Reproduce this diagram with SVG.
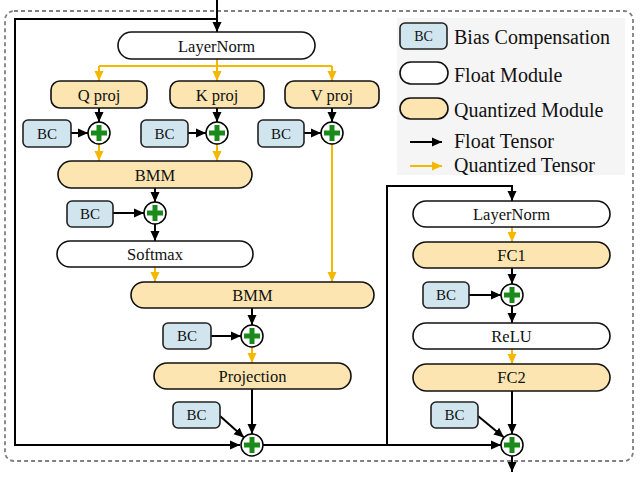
<svg xmlns="http://www.w3.org/2000/svg" width="640" height="480" viewBox="0 0 640 480">
<defs>
<marker id="ab" markerUnits="userSpaceOnUse" markerWidth="10" markerHeight="10" viewBox="0 0 10 10" refX="10" refY="5" orient="auto"><path d="M0,0.5 L10,5 L0,9.5 z" fill="#000"/></marker>
<marker id="ay" markerUnits="userSpaceOnUse" markerWidth="10" markerHeight="10" viewBox="0 0 10 10" refX="10" refY="5" orient="auto"><path d="M0,0.5 L10,5 L0,9.5 z" fill="#f5b800"/></marker>
<g id="plus"><circle r="11" fill="#fff" stroke="#000" stroke-width="1.5"/><path d="M-8,0 H8 M0,-8 V8" stroke="#1a8a1a" stroke-width="5"/></g>
</defs>
<style>
text{font-family:"Liberation Serif","Times New Roman",serif;fill:#111;}
.n{font-size:16.5px;text-anchor:middle;}
.bct{font-size:15px;text-anchor:middle;}
.lg{font-size:20px;}
.fl{fill:#fff;stroke:#111;stroke-width:1.6;}
.qz{fill:#fce5b0;stroke:#111;stroke-width:1.6;}
.bc{fill:#d0e5ee;stroke:#222;stroke-width:1.6;}
.k{fill:none;stroke:#000;stroke-width:2;}
.y{fill:none;stroke:#f5b800;stroke-width:2;}
</style>
<rect x="0" y="0" width="640" height="480" fill="#fff"/>
<rect x="5" y="11" width="628" height="450" rx="9" fill="none" stroke="#808080" stroke-width="1.8" stroke-dasharray="4,3"/>
<g font-family="Liberation Serif, Times New Roman, serif">
<g id="legend">
<rect x="397" y="18" width="228" height="157" fill="#f5f5f5"/>
<rect class="bc" x="400" y="23" width="47" height="26" rx="5"/>
<text class="bct" x="423.5" y="41" style="font-size:14px">BC</text>
<text class="lg" x="454" y="44">Bias Compensation</text>
<rect class="fl" x="400" y="62" width="48" height="22" rx="11"/>
<text class="lg" x="454" y="82">Float Module</text>
<rect class="qz" x="400" y="98" width="48" height="21" rx="10.5"/>
<text class="lg" x="454" y="117">Quantized Module</text>
<path class="k" d="M410,142 H442" marker-end="url(#ab)"/>
<text class="lg" x="454" y="148">Float Tensor</text>
<path class="y" d="M410,166 H442" marker-end="url(#ay)"/>
<text class="lg" x="454" y="172">Quantized Tensor</text>
</g>

<g id="connectors">
<path class="k" d="M217,0 V32" marker-end="url(#ab)"/>
<path class="k" d="M217,19 H15 V445 H240" marker-end="url(#ab)"/>
<path class="y" d="M217,59 V66 M99,66 H332"/>
<path class="y" d="M99,66 V81" marker-end="url(#ay)"/>
<path class="y" d="M217,66 V81" marker-end="url(#ay)"/>
<path class="y" d="M332,66 V81" marker-end="url(#ay)"/>
<path class="k" d="M99,108 V122" marker-end="url(#ab)"/>
<path class="k" d="M217,108 V122" marker-end="url(#ab)"/>
<path class="k" d="M332,108 V122" marker-end="url(#ab)"/>
<path class="k" d="M71,133 H88" marker-end="url(#ab)"/>
<path class="k" d="M188,133 H206" marker-end="url(#ab)"/>
<path class="k" d="M304,133 H321" marker-end="url(#ab)"/>
<path class="y" d="M99,144 V161" marker-end="url(#ay)"/>
<path class="y" d="M217,144 V161" marker-end="url(#ay)"/>
<path class="y" d="M332,144 V282" marker-end="url(#ay)"/>
<path class="k" d="M155,188 V202" marker-end="url(#ab)"/>
<path class="k" d="M113,213 H144" marker-end="url(#ab)"/>
<path class="k" d="M155,224 V241" marker-end="url(#ab)"/>
<path class="y" d="M155,267 V282" marker-end="url(#ay)"/>
<path class="k" d="M252,308 V325" marker-end="url(#ab)"/>
<path class="k" d="M211,336 H241" marker-end="url(#ab)"/>
<path class="y" d="M252,347 V363" marker-end="url(#ay)"/>
<path class="k" d="M252,389 V434" marker-end="url(#ab)"/>
<path class="k" d="M220,416 L244,437.5" marker-end="url(#ab)"/>
<path class="k" d="M263,445 H387 V186 H512 V201" marker-end="url(#ab)"/>
<path class="k" d="M387,445 H501" marker-end="url(#ab)"/>
<path class="y" d="M512,227 V242" marker-end="url(#ay)"/>
<path class="k" d="M512,268 V284" marker-end="url(#ab)"/>
<path class="k" d="M469,295 H501" marker-end="url(#ab)"/>
<path class="k" d="M512,306 V323" marker-end="url(#ab)"/>
<path class="y" d="M512,349 V364" marker-end="url(#ay)"/>
<path class="k" d="M512,391 V434" marker-end="url(#ab)"/>
<path class="k" d="M478,416 L504,437.5" marker-end="url(#ab)"/>
<path class="k" d="M512,456 V472" marker-end="url(#ab)"/>
</g>

<g id="ln1"><rect class="fl" x="118" y="32" width="197" height="27" rx="13.5"/><text class="n" x="216.5" y="51.5">LayerNorm</text></g>
<g id="qproj"><rect class="qz" x="51" y="81" width="96" height="27" rx="9"/><text class="n" x="99" y="100.5">Q proj</text></g>
<g id="kproj"><rect class="qz" x="170" y="81" width="94" height="27" rx="9"/><text class="n" x="217" y="100.5">K proj</text></g>
<g id="vproj"><rect class="qz" x="285" y="81" width="94" height="27" rx="9"/><text class="n" x="332" y="100.5">V proj</text></g>
<g id="bcq"><rect class="bc" x="23" y="120" width="48" height="27" rx="5"/><text class="bct" x="47" y="139">BC</text></g>
<g id="bck"><rect class="bc" x="141" y="120" width="47" height="27" rx="5"/><text class="bct" x="164.5" y="139">BC</text></g>
<g id="bcv"><rect class="bc" x="258" y="120" width="46" height="27" rx="5"/><text class="bct" x="281" y="139">BC</text></g>
<g id="addq"><use href="#plus" x="99" y="133"/></g>
<g id="addk"><use href="#plus" x="217" y="133"/></g>
<g id="addv"><use href="#plus" x="332" y="133"/></g>
<g id="bmm1"><rect class="qz" x="58" y="161" width="194" height="27" rx="13.5"/><text class="n" x="155" y="180.5">BMM</text></g>
<g id="bc4"><rect class="bc" x="67" y="201" width="46" height="26" rx="5"/><text class="bct" x="90" y="219">BC</text></g>
<g id="add4"><use href="#plus" x="155" y="213"/></g>
<g id="softmax"><rect class="fl" x="57" y="241" width="196" height="26" rx="13"/><text class="n" x="155" y="259.5">Softmax</text></g>
<g id="bmm2"><rect class="qz" x="131" y="282" width="243" height="26" rx="13"/><text class="n" x="252.5" y="300.5">BMM</text></g>
<g id="bc5"><rect class="bc" x="163" y="323" width="48" height="26" rx="5"/><text class="bct" x="187" y="341">BC</text></g>
<g id="add5"><use href="#plus" x="252" y="336"/></g>
<g id="projection"><rect class="qz" x="154" y="363" width="197" height="26" rx="13"/><text class="n" x="252.5" y="381.5">Projection</text></g>
<g id="bc6"><rect class="bc" x="173" y="402" width="47" height="26" rx="5"/><text class="bct" x="196.5" y="420">BC</text></g>
<g id="add6"><use href="#plus" x="252" y="445"/></g>
<g id="ln2"><rect class="fl" x="413" y="201" width="197" height="26" rx="13"/><text class="n" x="511.5" y="219.5">LayerNorm</text></g>
<g id="fc1"><rect class="qz" x="413" y="242" width="197" height="26" rx="13"/><text class="n" x="511.5" y="260.5">FC1</text></g>
<g id="bc7"><rect class="bc" x="423" y="282" width="46" height="26" rx="5"/><text class="bct" x="446" y="300">BC</text></g>
<g id="add7"><use href="#plus" x="512" y="295"/></g>
<g id="relu"><rect class="fl" x="413" y="323" width="197" height="26" rx="13"/><text class="n" x="511.5" y="341.5">ReLU</text></g>
<g id="fc2"><rect class="qz" x="413" y="364" width="197" height="27" rx="13.5"/><text class="n" x="511.5" y="383">FC2</text></g>
<g id="bc8"><rect class="bc" x="431" y="402" width="47" height="26" rx="5"/><text class="bct" x="454.5" y="420">BC</text></g>
<g id="add8"><use href="#plus" x="512" y="445"/></g>
</g>
</svg>
